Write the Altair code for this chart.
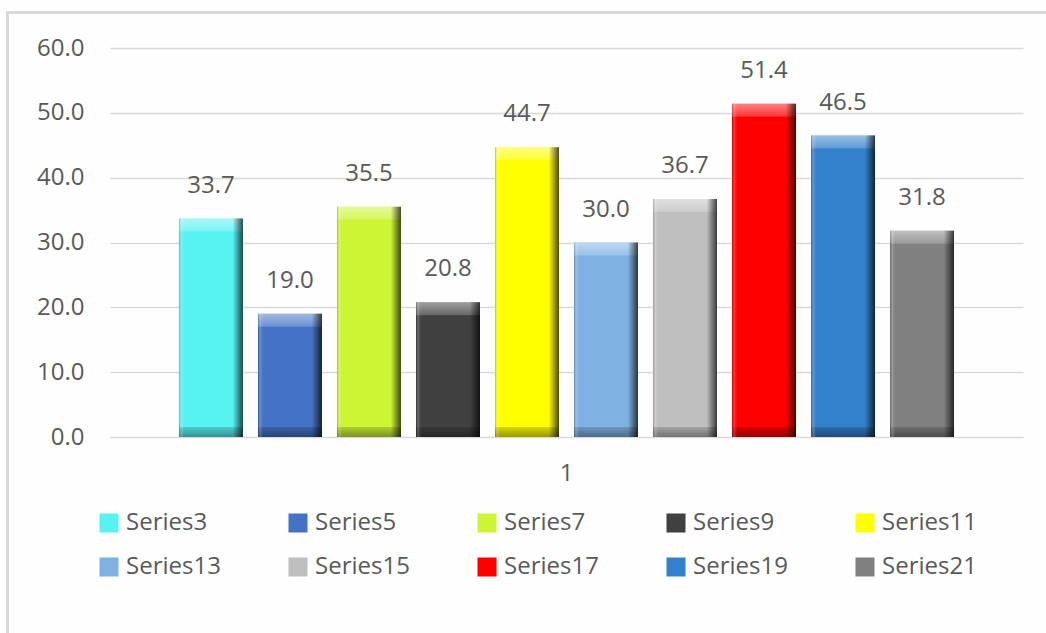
import altair as alt
import pandas as pd

# Chart data
category = "1"
series = ["Series3", "Series5", "Series7", "Series9", "Series11",
          "Series13", "Series15", "Series17", "Series19", "Series21"]
values = [33.7, 19.0, 35.5, 20.8, 44.7, 30.0, 36.7, 51.4, 46.5, 31.8]
palette = ["#57F2F2", "#4472C4", "#CCF533", "#404040", "#FFFF00",
           "#7FB1E3", "#BFBFBF", "#FF0000", "#3380CC", "#808080"]
y_ticks = [0, 10, 20, 30, 40, 50, 60]

df = pd.DataFrame({"category": category, "series": series, "value": values})

FONT = "Open Sans"
TEXT = "#595959"
GRID = "#D9D9D9"

PLOT_W, PLOT_H = 913, 389
PAD = {"left": 110, "top": 48, "right": 23, "bottom": 196}

x_enc = alt.X(
    "category:N",
    title=None,
    scale=alt.Scale(paddingInner=0, paddingOuter=0),
    axis=alt.Axis(labelAngle=0, labelFontSize=24, labelFont=FONT, labelColor=TEXT,
                  ticks=False, tickSize=0, domain=False, grid=False, labelPadding=24),
)
xo_enc = alt.XOffset(
    "series:N",
    sort=series,
    scale=alt.Scale(domain=series, paddingInner=0.19, paddingOuter=0.873),
)
y_enc = alt.Y(
    "value:Q",
    stack=None,
    title=None,
    scale=alt.Scale(domain=[0, 60], nice=False),
    axis=alt.Axis(values=y_ticks, format=".1f", labelFontSize=24, labelFont=FONT,
                  labelColor=TEXT, labelPadding=26, ticks=False, domain=False,
                  grid=True, gridColor=GRID, gridWidth=1.5),
)

base = alt.Chart(df)

# outer chart frame (outline only)
frame = alt.Chart(alt.Data(values=[{}])).mark_rect(
    fillOpacity=0, stroke=GRID, strokeWidth=3
).encode(
    x=alt.value(-102.5), x2=alt.value(1100), y=alt.value(-35.5), y2=alt.value(700)
)

bars = base.mark_bar().encode(
    x=x_enc,
    xOffset=xo_enc,
    y=y_enc,
    color=alt.Color(
        "series:N",
        sort=series,
        scale=alt.Scale(domain=series, range=palette),
        legend=alt.Legend(
            title=None, orient="none", legendX=-13, legendY=463, columns=5,
            direction="horizontal",
            symbolType="square", symbolSize=361, symbolStrokeWidth=0,
            symbolOpacity=1, labelFontSize=24, labelFont=FONT, labelColor=TEXT,
            labelOffset=5, columnPadding=65, rowPadding=20, gridAlign="all",
            padding=0, labelLimit=300,
        ),
    ),
)

# bevel: lighter top face
top_bevel = base.mark_bar(
    y2Offset=13,
    fill=alt.Gradient(
        gradient="linear", x1=0, x2=0, y1=0, y2=1,
        stops=[alt.GradientStop(color="rgba(255,255,255,0.5)", offset=0),
               alt.GradientStop(color="rgba(255,255,255,0.2)", offset=1)],
    ),
).encode(x=x_enc, xOffset=xo_enc, y=y_enc, y2=alt.Y2("value"))

# bevel: darker bottom face
bottom_bevel = base.mark_bar(
    yOffset=-10,
    fill=alt.Gradient(
        gradient="linear", x1=0, x2=0, y1=0, y2=1,
        stops=[alt.GradientStop(color="rgba(0,0,0,0.15)", offset=0),
               alt.GradientStop(color="rgba(0,0,0,0.4)", offset=1)],
    ),
).encode(x=x_enc, xOffset=xo_enc, y=alt.datum(0), y2=alt.datum(0))

# bevel: side shading
side_shade = base.mark_bar(
    fill=alt.Gradient(
        gradient="linear", x1=0, x2=1, y1=0, y2=0,
        stops=[alt.GradientStop(color="rgba(0,0,0,0.25)", offset=0),
               alt.GradientStop(color="rgba(255,255,255,0.2)", offset=0.03),
               alt.GradientStop(color="rgba(255,255,255,0)", offset=0.08),
               alt.GradientStop(color="rgba(0,0,0,0)", offset=0.84),
               alt.GradientStop(color="rgba(0,0,0,0.35)", offset=0.92),
               alt.GradientStop(color="rgba(0,0,0,0.7)", offset=1)],
    ),
).encode(x=x_enc, xOffset=xo_enc, y=y_enc)

labels = base.mark_text(
    dy=-33, fontSize=24, font=FONT, color=TEXT, baseline="middle"
).encode(
    x=x_enc, xOffset=xo_enc, y=y_enc,
    text=alt.Text("value:Q", format=".1f"),
)

chart = alt.layer(
    frame, bars, top_bevel, bottom_bevel, side_shade, labels
).properties(
    width=PLOT_W,
    height=PLOT_H,
    autosize=alt.AutoSizeParams(type="none"),
    padding=PAD,
    background="#FEFEFE",
).configure_view(stroke=None)

chart.save("out.html", embed_options={"renderer": "svg", "actions": False})
